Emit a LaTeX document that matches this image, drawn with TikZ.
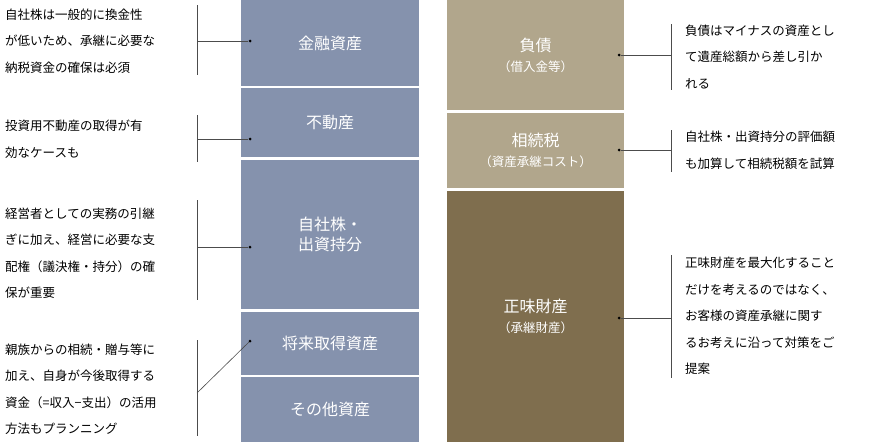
\documentclass[tikz,border=0pt]{standalone}
\usepackage{fontspec}
\newfontfamily\jpfont{Noto Sans CJK JP}
\usetikzlibrary{positioning,calc}
\definecolor{assetblue}{HTML}{8592AD}
\definecolor{debttan}{HTML}{B1A68C}
\definecolor{netbrown}{HTML}{7F6E4E}
\tikzset{
  blockbox/.style={draw=white, line width=1.5pt, text=white, font=\jpfont\fontsize{16}{20}\selectfont, align=center},
  notetext/.style={anchor=west, align=left, font=\jpfont\fontsize{12.5}{26.5}\selectfont, inner sep=0pt},
  notebar/.style={line width=0.6pt, black!70},
  dot/.style={circle, fill=black, inner sep=0pt, minimum size=3pt}
}
\begin{document}
\begin{tikzpicture}[x=1pt,y=-1pt]
    \useasboundingbox (0,0) rectangle (870,442);

    % 資産側
    \fill[assetblue] (241,0) rectangle (419,86) node[midway, blockbox, draw=none] (kinyu) {金融資産};
    \fill[assetblue] (241,88) rectangle (419,157) node[midway, blockbox, draw=none] (fudosan) {不動産};
    \fill[assetblue] (241,160) rectangle (419,309) node[midway, blockbox, draw=none] (jisha) {自社株・\\出資持分};
    \fill[assetblue] (241,312) rectangle (419,375) node[midway, blockbox, draw=none] (shorai) {将来取得資産};
    \fill[assetblue] (241,377) rectangle (419,442) node[midway, blockbox, draw=none] (sonota) {その他資産};

    % 負債・財産側
    \fill[debttan] (447,0) rectangle (624,110) node[midway, blockbox, draw=none] (fusai) {負債\\{\fontsize{12.5}{16}\selectfont（借入金等）}};
    \fill[debttan] (447,113) rectangle (624,188) node[midway, blockbox, draw=none] (sozoku) {相続税\\{\fontsize{12.5}{16}\selectfont（資産承継コスト）}};
    \fill[netbrown] (447,191) rectangle (624,442) node[midway, blockbox, draw=none] (shomi) {正味財産\\{\fontsize{12.5}{16}\selectfont（承継財産）}};

    % 説明文（左）
    \node[notetext] (nKinyu) at (5,41) {自社株は一般的に換金性\\が低いため、承継に必要な\\納税資金の確保は必須};
    \node[notetext] (nFudosan) at (5,139) {投資用不動産の取得が有\\効なケースも};
    \node[notetext] (nJisha) at (5,253) {経営者としての実務の引継\\ぎに加え、経営に必要な支\\配権（議決権・持分）の確\\保が重要};
    \node[notetext] (nShorai) at (5,389) {親族からの相続・贈与等に\\加え、自身が今後取得する\\資金（=収入−支出）の活用\\方法もプランニング};

    % 説明文（右）
    \node[notetext] (nFusai) at (685,57) {負債はマイナスの資産とし\\て遺産総額から差し引か\\れる};
    \node[notetext] (nSozoku) at (685,150) {自社株・出資持分の評価額\\も加算して相続税額を試算};
    \node[notetext] (nShomi) at (685,316) {正味財産を最大化すること\\だけを考えるのではなく、\\お客様の資産承継に関す\\るお考えに沿って対策をご\\提案};

    % 縦線
    \draw[notebar] (197,5) -- (197,75);
    \draw[notebar] (197,115) -- (197,162);
    \draw[notebar] (197,200) -- (197,300);
    \draw[notebar] (197,340) -- (197,436);
    \draw[notebar] (671,24) -- (671,90);
    \draw[notebar] (671,130) -- (671,172);
    \draw[notebar] (671,255) -- (671,378);

    % 点と引出線
    \node[dot] (pKinyu) at (250,41) {};
    \node[dot] (pFudosan) at (250,139) {};
    \node[dot] (pJisha) at (250,247) {};
    \node[dot] (pShorai) at (250,341) {};
    \node[dot] (pFusai) at (619,55) {};
    \node[dot] (pSozoku) at (619,150) {};
    \node[dot] (pShomi) at (619,318) {};
    \draw[notebar] (197,41) -- (pKinyu);
    \draw[notebar] (197,139) -- (pFudosan);
    \draw[notebar] (197,247) -- (pJisha);
    \draw[notebar] (197,393) -- (pShorai);
    \draw[notebar] (pFusai) -- (671,55);
    \draw[notebar] (pSozoku) -- (671,150);
    \draw[notebar] (pShomi) -- (671,318);
\end{tikzpicture}
\end{document}
